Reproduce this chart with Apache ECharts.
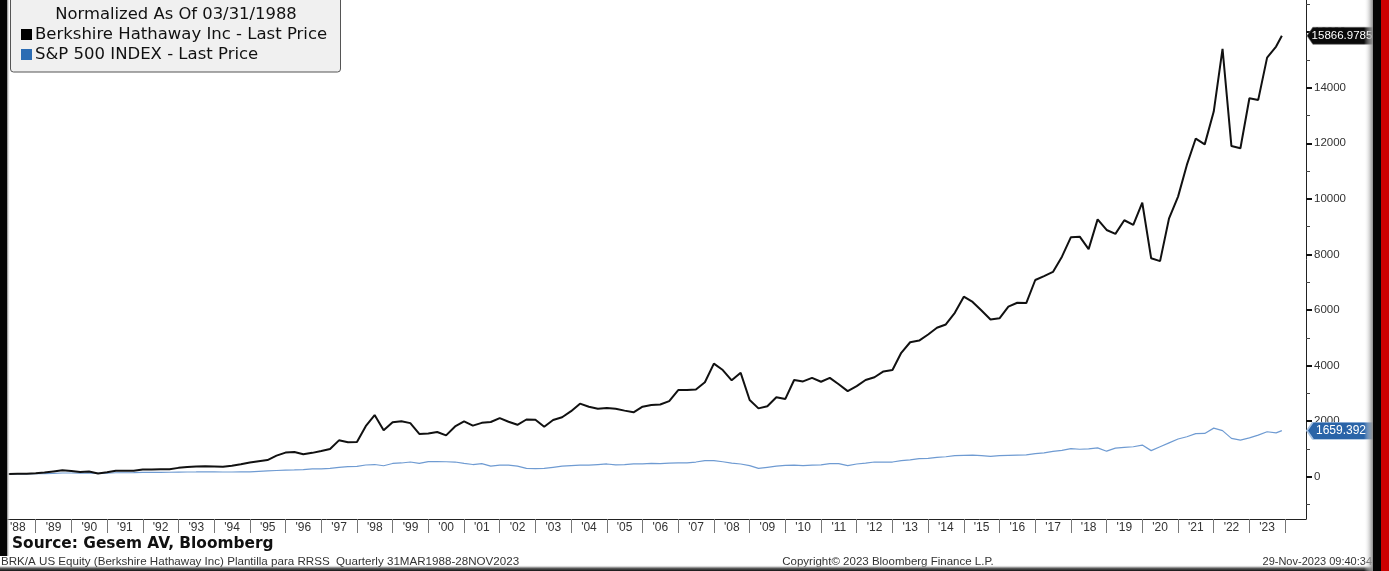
<!DOCTYPE html>
<html>
<head>
<meta charset="utf-8">
<script src="https://cdn.jsdelivr.net/npm/echarts@6/dist/echarts.min.js"></script>
<style>
html,body{margin:0;padding:0;background:#fff;}
#chart{width:1389px;height:571px;}
</style>
</head>
<body>
<div id="chart"></div>
<script>
// ---------------- DATA ----------------
const startYear = 1988;
const lastDate = '2023-11-28';
const quarterEnds = ['03-31', '06-30', '09-30', '12-31'];

// Berkshire Hathaway Inc - Last Price, normalized (quarterly from 1988Q1, last point 28NOV2023)
const brk = [
  100, 105, 110, 130, 150, 190, 230, 210, 170, 190, 120, 160,
  220, 220, 220, 260, 260, 270, 270, 320, 350, 370, 380, 370,
  360, 400, 450, 510, 560, 600, 760, 870, 890, 810, 860, 930,
  1000, 1310, 1240, 1250, 1820, 2220, 1670, 1960, 2000, 1930, 1540, 1560,
  1610, 1490, 1810, 1990, 1840, 1940, 1970, 2110, 1980, 1870, 2060, 2050,
  1800, 2040, 2140, 2360, 2630, 2520, 2450, 2470, 2450, 2380, 2320, 2520,
  2580, 2600, 2720, 3120, 3120, 3140, 3400, 4070, 3840, 3470, 3740, 2760,
  2460, 2540, 2860, 2800, 3480, 3430, 3560, 3420, 3560, 3330, 3080, 3260,
  3480, 3580, 3790, 3840, 4460, 4840, 4900, 5120, 5360, 5480, 5900, 6480,
  6290, 5980, 5660, 5700, 6120, 6260, 6250, 7080, 7220, 7370, 7920, 8620,
  8640, 8190, 9260, 8880, 8740, 9230, 9060, 9860, 7860, 7760, 9300, 10080,
  11220, 12170, 11960, 13140, 15400, 11900, 11820, 13620, 13560, 15080, 15480,
  15866.9785
];

// S&P 500 INDEX - Last Price, normalized
const spx = [
  100, 103, 104, 108, 114, 122, 135, 136, 131, 139, 119, 127,
  145, 144, 149, 161, 157, 158, 162, 168, 172, 173, 177, 180,
  172, 171, 179, 177, 193, 211, 226, 237, 248, 260, 282, 287,
  300, 340, 364, 375, 423, 440, 395, 478, 496, 530, 480, 545,
  545, 540, 530, 480, 440, 470, 380, 420, 420, 380, 300, 290,
  300, 340, 380, 400, 420, 420, 440, 460, 430, 440, 460, 460,
  480, 470, 490, 500, 500, 530, 580, 580, 540, 490, 460, 400,
  300, 340, 380, 410, 420, 400, 420, 430, 470, 470, 400, 460,
  490, 530, 530, 530, 580, 610, 650, 660, 700, 720, 760, 770,
  780, 760, 730, 760, 770, 780, 790, 830, 860, 910, 950, 1010,
  990, 1000, 1040, 920, 1030, 1060, 1080, 1140, 940, 1080, 1220, 1360,
  1440, 1550, 1560, 1750, 1660, 1380, 1320, 1400, 1500, 1620, 1580,
  1659.392
];

const yearLabels = ["'88","'89","'90","'91","'92","'93","'94","'95","'96","'97","'98","'99",
  "'00","'01","'02","'03","'04","'05","'06","'07","'08","'09","'10","'11",
  "'12","'13","'14","'15","'16","'17","'18","'19","'20","'21","'22","'23"];
const yLabelValues = [0, 2000, 4000, 6000, 8000, 10000, 12000, 14000, 16000];
const yMinorValues = [-1000, 1000, 3000, 5000, 7000, 9000, 11000, 13000, 15000, 17000];

const brkName = 'Berkshire Hathaway Inc - Last Price';
const spxName = 'S&P 500 INDEX - Last Price';

// ---------------- BUILD ----------------
const dates = brk.map((_, i) =>
  i < brk.length - 1 ? (startYear + Math.floor(i / 4)) + '-' + quarterEnds[i % 4] : lastDate);
const brkData = brk.map((v, i) => [dates[i], v]);
const spxData = spx.map((v, i) => [dates[i], v]);

const xMin = '1988-01-01', xMax = '2024-08-01';
const yMin = -1520, yMax = 17155;
const lblFont = 'Liberation Sans';

const tagPath = 'path://M0,8 L6,0 L70,0 L70,16 L6,16 Z';

const chart = echarts.init(document.getElementById('chart'), null, {renderer: 'canvas'});
chart.setOption({
  animation: false,
  backgroundColor: '#ffffff',
  grid: [
    {left: 0, right: 83, top: 0, height: 519},
    {left: 0, width: 1285, top: 518, height: 1},
    {left: 0, right: 83, top: 0, height: 519}
  ],
  xAxis: [
    {type: 'time', gridIndex: 0, min: xMin, max: xMax,
     axisLine: {show: true, onZero: false, lineStyle: {color: '#222', width: 1}},
     axisTick: {show: false}, axisLabel: {show: false}, splitLine: {show: false}},
    {type: 'category', gridIndex: 1, data: yearLabels, boundaryGap: true, position: 'bottom',
     axisLine: {show: false, onZero: false},
     axisTick: {show: true, interval: 0, length: 14, lineStyle: {color: '#777', width: 1}},
     axisLabel: {interval: 0, margin: 3, fontSize: 12, color: '#333', fontFamily: lblFont}},
    {type: 'value', gridIndex: 2, show: false, min: 0, max: 1}
  ],
  yAxis: [
    {type: 'value', gridIndex: 0, position: 'right', min: yMin, max: yMax,
     axisLine: {show: true, onZero: false, lineStyle: {color: '#222', width: 1}},
     axisTick: {show: true, customValues: yLabelValues, length: 6, lineStyle: {color: '#111', width: 2}},
     axisLabel: {customValues: yLabelValues, margin: 8, fontSize: 11.5, color: '#333', fontFamily: lblFont,
                 formatter: v => String(v)},
     splitLine: {show: false}},
    {type: 'value', gridIndex: 1, show: false},
    {type: 'value', gridIndex: 2, position: 'right', min: yMin, max: yMax,
     axisLine: {show: false, onZero: false},
     axisTick: {show: true, customValues: yMinorValues, length: 4, lineStyle: {color: '#444', width: 1}},
     axisLabel: {show: false}, splitLine: {show: false}}
  ],
  legend: {
    orient: 'vertical', left: 21, top: 26, itemWidth: 11, itemHeight: 11, itemGap: 3,
    icon: 'rect', padding: 0,
    textStyle: {fontFamily: 'DejaVu Sans', fontSize: 16.5, color: '#111', padding: [0, 0, 0, -2]},
    data: [brkName, spxName]
  },
  series: [
    {name: spxName, type: 'line', xAxisIndex: 0, yAxisIndex: 0, data: spxData,
     showSymbol: false, symbol: 'none', z: 2,
     itemStyle: {color: '#2b6cb3'},
     lineStyle: {color: '#6f9bd2', width: 1.2},
     markPoint: {
       silent: true, symbol: tagPath, symbolSize: [68, 17], symbolOffset: [35, 0], symbolKeepAspect: false,
       itemStyle: {color: '#2a64a8', borderColor: '#a9c3e3', borderWidth: 1},
       label: {show: true, position: 'inside', offset: [0, 0], color: '#fff', fontSize: 12, fontFamily: lblFont,
               formatter: () => String(spx[spx.length - 1])},
       data: [{coord: [xMax, spx[spx.length - 1]]}]
     }},
    {name: brkName, type: 'line', xAxisIndex: 0, yAxisIndex: 0, data: brkData,
     showSymbol: false, symbol: 'none', z: 3,
     itemStyle: {color: '#000'},
     lineStyle: {color: '#111', width: 2},
     markPoint: {
       silent: true, symbol: tagPath, symbolSize: [68, 17], symbolOffset: [35, 0], symbolKeepAspect: false,
       itemStyle: {color: '#0a0a0a', borderColor: '#666', borderWidth: 0.5},
       label: {show: true, position: 'inside', offset: [1, 0], color: '#fff', fontSize: 11.5, fontFamily: lblFont,
               formatter: () => String(brk[brk.length - 1])},
       data: [{coord: [xMax, brk[brk.length - 1]]}]
     }}
  ],
  graphic: [
    // legend box
    {type: 'rect', z: 1, shape: {x: 10.5, y: -5, width: 330, height: 77, r: 3},
     style: {fill: '#f0f0f0', stroke: '#555', lineWidth: 1}},
    {type: 'text', z: 5, x: 176, y: 15,
     style: {text: 'Normalized As Of 03/31/1988', fontFamily: 'DejaVu Sans', fontSize: 16.4, fill: '#111',
             align: 'center', verticalAlign: 'middle'}},
    // footer
    {type: 'text', z: 5, x: 12, y: 544,
     style: {text: 'Source: Gesem AV, Bloomberg', fontFamily: 'DejaVu Sans', fontWeight: 'bold', fontSize: 15.4,
             fill: '#111', verticalAlign: 'middle'}},
    {type: 'text', z: 101, x: 1, y: 562,
     style: {text: 'BRK/A US Equity (Berkshire Hathaway Inc) Plantilla para RRSS  Quarterly 31MAR1988-28NOV2023',
             fontFamily: lblFont, fontSize: 11.6, fill: '#333', verticalAlign: 'middle'}},
    {type: 'text', z: 5, x: 888, y: 562,
     style: {text: 'Copyright\u00A9 2023 Bloomberg Finance L.P.', fontFamily: lblFont, fontSize: 11.5, fill: '#333',
             align: 'center', verticalAlign: 'middle'}},
    {type: 'text', z: 5, x: 1372, y: 562,
     style: {text: '29-Nov-2023 09:40:34', fontFamily: lblFont, fontSize: 11, fill: '#333',
             align: 'right', verticalAlign: 'middle'}},
    // frame decorations
    {type: 'rect', z: 100, shape: {x: 0, y: 0, width: 7, height: 556}, style: {fill: '#050505'}},
    {type: 'rect', z: 100, shape: {x: 7, y: 0, width: 3, height: 556},
     style: {fill: new echarts.graphic.LinearGradient(0, 0, 1, 0, [{offset: 0, color: '#777'}, {offset: 1, color: 'rgba(255,255,255,0)'}])}},
    {type: 'rect', z: 100, shape: {x: 1364, y: 0, width: 9, height: 571},
     style: {fill: new echarts.graphic.LinearGradient(0, 0, 1, 0, [{offset: 0, color: 'rgba(255,255,255,0)'}, {offset: 1, color: '#8a8a8a'}])}},
    {type: 'rect', z: 100, shape: {x: 1373, y: 0, width: 8, height: 571}, style: {fill: '#050505'}},
    {type: 'rect', z: 100, shape: {x: 1381, y: 0, width: 8, height: 571}, style: {fill: '#cc0000'}},
    {type: 'rect', z: 99, shape: {x: 0, y: 565, width: 1373, height: 6},
     style: {fill: new echarts.graphic.LinearGradient(0, 0, 0, 1, [{offset: 0, color: 'rgba(255,255,255,0)'}, {offset: 0.5, color: '#666'}, {offset: 1, color: '#111'}])}}
  ]
});
</script>
</body>
</html>
